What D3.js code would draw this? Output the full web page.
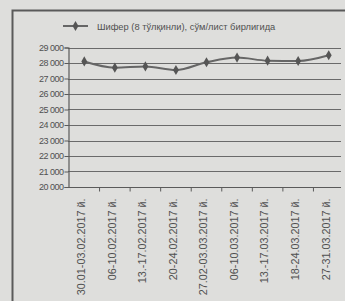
<!DOCTYPE html>
<html><head><meta charset="utf-8">
<script src="https://cdn.jsdelivr.net/npm/d3@7"></script>
<style>
html,body{margin:0;padding:0;background:#dededc;}
svg{display:block;}
text{font-family:"Liberation Sans",Arial,sans-serif;fill:#505050;}
</style></head><body>
<script>
const categories = ["30.01-03.02.2017 й.","06-10.02.2017 й.","13.-17.02.2017 й.","20-24.02.2017 й.","27.02-03.03.2017 й.","06-10.03.2017 й.","13.-17.03.2017 й.","18-24.03.2017 й.","27-31.03.2017 й."];
const values = [28100, 27700, 27780, 27550, 28050, 28350, 28150, 28130, 28500];
const yTicks = [20000,21000,22000,23000,24000,25000,26000,27000,28000,29000];
const seriesName = "Шифер (8 тўлқинли), сўм/лист бирлигида";

const W = 345, H = 301;
const svg = d3.select("body").append("svg").attr("width", W).attr("height", H);
svg.append("rect").attr("width", W).attr("height", H).attr("fill", "#dededc");

// outer frame
svg.append("path").attr("d", "M12.5,301 L12.5,10.5 L345,10.5")
  .attr("fill", "none").attr("stroke", "#5a5a5a").attr("stroke-width", 2);

const x = d3.scaleBand().domain(categories).range([69, 344]);
const y = d3.scaleLinear().domain([20000, 29000]).range([187, 47.5]);
const fmt = v => d3.format(",")(v).replace(",", " ");

// gridlines
svg.append("g").selectAll("line").data(yTicks.slice(1)).join("line")
  .attr("x1", 68).attr("x2", 341)
  .attr("y1", d => Math.round(y(d)) + 0.5).attr("y2", d => Math.round(y(d)) + 0.5)
  .attr("stroke", "#6a6a6a").attr("stroke-width", 1.2);

// y axis
const ya = svg.append("g").attr("transform", "translate(68.5,0)")
  .call(d3.axisLeft(y).tickValues(yTicks).tickSize(4).tickFormat(d => fmt(d)));
ya.select(".domain").attr("stroke", "#5a5a5a").attr("stroke-width", 1.2);
ya.selectAll(".tick line").attr("stroke", "#5a5a5a");
ya.selectAll(".tick text").attr("font-size", "9px").attr("fill", "#505050")
  .attr("letter-spacing", "-0.5px").attr("x", -5);

// x axis
const xa = svg.append("g").attr("transform", "translate(0,187.5)");
xa.append("line").attr("x1", 68).attr("x2", 341).attr("stroke", "#5a5a5a").attr("stroke-width", 1.2);
xa.selectAll("line.tk").data(categories.slice(1)).join("line").attr("class","tk")
  .attr("x1", d => x(d)).attr("x2", d => x(d)).attr("y1", 0).attr("y2", 4)
  .attr("stroke", "#5a5a5a");
xa.selectAll("text").data(categories).join("text")
  .attr("transform", d => `translate(${x(d) + x.bandwidth()/2 - 3},11) rotate(-90)`)
  .attr("text-anchor", "end").attr("dy", "0.35em")
  .attr("font-size", "10.8px").text(d => d);

// line
const line = d3.line().x((d, i) => x(categories[i]) + x.bandwidth()/2).y(d => y(d)).curve(d3.curveMonotoneX);
svg.append("path").datum(values).attr("d", line)
  .attr("fill", "none").attr("stroke", "#666").attr("stroke-width", 2);
const diamond = d3.symbol().type(d3.symbolDiamond).size(30);
svg.append("g").selectAll("path").data(values).join("path")
  .attr("d", diamond)
  .attr("transform", (d, i) => `translate(${x(categories[i]) + x.bandwidth()/2},${y(d)})`)
  .attr("fill", "#555");

// legend
svg.append("line").attr("x1", 63).attr("x2", 88).attr("y1", 26).attr("y2", 26)
  .attr("stroke", "#666").attr("stroke-width", 2);
svg.append("path").attr("d", diamond).attr("transform", "translate(75.5,26)").attr("fill", "#555");
svg.append("text").attr("x", 97).attr("y", 29.5).attr("font-size", "9.3px").text(seriesName);
</script>
</body></html>
